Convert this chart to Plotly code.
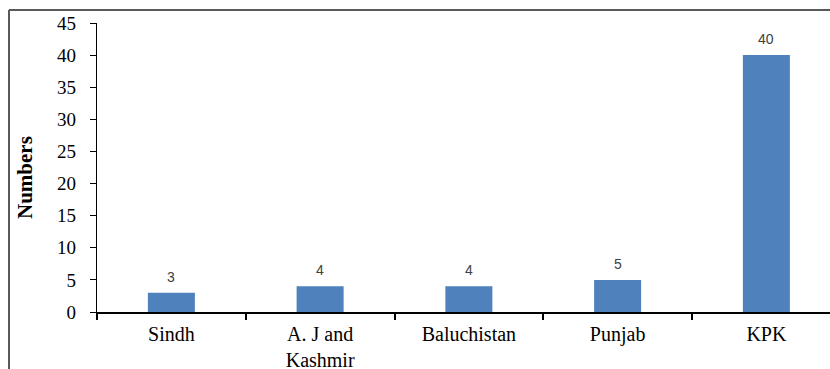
import plotly.graph_objects as go

categories = ["Sindh", "A. J and<br>Kashmir", "Baluchistan", "Punjab", "KPK"]
values = [3, 4, 4, 5, 40]
y_ticks = [0, 5, 10, 15, 20, 25, 30, 35, 40, 45]

W, H = 830, 369
ML, MR, MT, MB = 97, 0, 23, 57
plot_w = W - ML - MR
plot_h = H - MT - MB
cat_px = 148.75

fig = go.Figure()
fig.add_trace(go.Bar(
    x=categories, y=values,
    marker=dict(color="#4F81BD", line=dict(width=0)),
    hoverinfo="skip",
))

for c, v in zip(categories, values):
    fig.add_annotation(x=c, y=v, text=str(v), showarrow=False,
                       yanchor="middle", yshift=16,
                       font=dict(family="Liberation Sans", size=14, color="#404040"))

# y-axis title
fig.add_annotation(xref="paper", yref="paper",
                   x=(25 - ML) / plot_w, y=(H - MB - 178) / plot_h,
                   text="<b>Numbers</b>", textangle=-90, showarrow=False,
                   xanchor="center", yanchor="middle",
                   font=dict(family="Liberation Serif", size=21, color="black"))

# chart border (top and left), cropped
border = dict(color="#595959", width=2)
fig.add_shape(type="line", xref="paper", yref="paper",
              x0=(9 - ML) / plot_w, x1=1.05, y0=(H - MB - 10) / plot_h, y1=(H - MB - 10) / plot_h,
              line=border)
fig.add_shape(type="line", xref="paper", yref="paper",
              x0=(9 - ML) / plot_w, x1=(9 - ML) / plot_w,
              y0=(H - MB - 10) / plot_h, y1=-0.5, line=border)

fig.update_layout(
    width=W, height=H,
    margin=dict(l=ML, r=MR, t=MT, b=MB, pad=0, autoexpand=False),
    paper_bgcolor="white", plot_bgcolor="white",
    bargap=0.684,
    showlegend=False,
    xaxis=dict(
        range=[-0.5, -0.5 + plot_w / cat_px],
        automargin=False,
        showline=True, linecolor="black", linewidth=1.5,
        ticks="outside", tickson="boundaries", ticklen=6, tickcolor="black", tickwidth=1.5,
        ticklabelstandoff=3,
        tickfont=dict(family="Liberation Serif", size=20, color="black"),
        showgrid=False, zeroline=False,
    ),
    yaxis=dict(
        range=[0, 45], tickvals=y_ticks,
        automargin=False,
        showline=True, linecolor="black", linewidth=1.2,
        ticks="outside", ticklen=6, tickcolor="black", tickwidth=1.2,
        ticklabelstandoff=10,
        tickfont=dict(family="Liberation Serif", size=19, color="black"),
        showgrid=False, zeroline=False,
    ),
)

fig.write_html(
    "out.html",
    config={"displayModeBar": False},
    post_script="document.body.style.margin='0';document.body.style.overflow='hidden';",
)
